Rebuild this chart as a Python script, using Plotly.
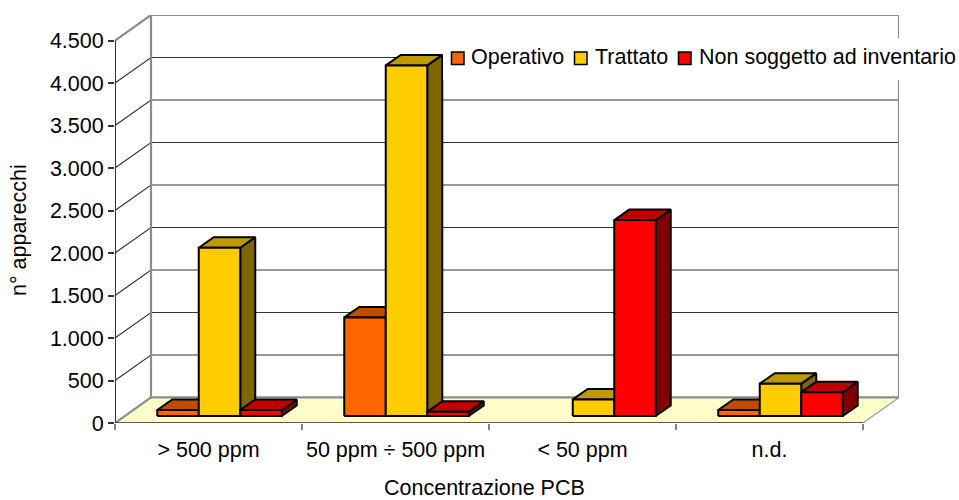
import plotly.graph_objects as go

categories = ["> 500 ppm", "50 ppm ÷ 500 ppm", "< 50 ppm", "n.d."]
operativo = [70, 1160, 0, 70]
trattato = [1980, 4125, 195, 380]
non_soggetto = [70, 50, 2305, 280]
series_names = ["Operativo", "Trattato", "Non soggetto ad inventario"]
y_ticks = [0, 500, 1000, 1500, 2000, 2500, 3000, 3500, 4000, 4500]
y_labels = ["0", "500", "1.000", "1.500", "2.000", "2.500", "3.000", "3.500", "4.000", "4.500"]
x_title = "Concentrazione PCB"
y_title = "n° apparecchi"

W, H = 959, 500
L, R, T, B = 115, 899, 15, 423
PX_X = 187.0
PX_Y = 382 / 4500
FONT = "Liberation Sans, Arial, sans-serif"
FS = 21.5

colors = [("#FF6600", "#BF4D00", "#803300"),
          ("#FFCC00", "#BF9900", "#806600"),
          ("#FF0000", "#BF0000", "#800000")]
values = [operativo, trattato, non_soggetto]

dxw, dyw = 36 / PX_X, 25.5 / PX_Y      # wall depth
dxb, dyb = 15 / PX_X, 10.5 / PX_Y      # bar depth
x0b, y0b = 11 / PX_X, 7 / PX_Y         # bar base inset
bw = 41.5 / PX_X
n_cat = len(categories)
xmax = n_cat + dxw
ymax = (B - T) / PX_Y

fig = go.Figure()


def poly(xs, ys, fill=None, color="black", width=2.0):
    fig.add_trace(go.Scatter(
        x=xs, y=ys, mode="lines",
        fill="toself" if fill else "none", fillcolor=fill,
        line=dict(color=color, width=width),
        showlegend=False, hoverinfo="skip", cliponaxis=False))


# floor
poly([0, n_cat, xmax, dxw, 0], [0, 0, dyw, dyw, 0], fill="#FFFFCC", color="#FFFFCC", width=0.5)

# gridlines
gx, gy = [], []
for v in y_ticks[1:-1]:
    gx += [0, dxw, xmax, None]
    gy += [v, v + dyw, v + dyw, None]
poly(gx, gy, color="#333333", width=1.1)

# wall outlines
top = y_ticks[-1]
poly([0, dxw, xmax, xmax], [top, top + dyw, top + dyw, dyw], color="#8C8C8C", width=2.2)
poly([0, dxw, dxw], [0, dyw, top + dyw], color="#8C8C8C", width=2.2)
poly([dxw, xmax], [dyw, dyw], color="#8C8C8C", width=2.2)
poly([xmax, n_cat], [dyw, 0], color="#999999", width=1.2)
poly([0, n_cat], [0, 0], color="#222222", width=1.6)

# bars
for c in range(n_cat):
    left = c + 0.5 + x0b - 1.5 * bw
    for s, vals in enumerate(values):
        v = vals[c]
        if not v:
            continue
        front, topc, side = colors[s]
        a = left + s * bw
        b = a + bw
        y0 = y0b
        y1 = y0b + v
        poly([b, b + dxb, b + dxb, b, b], [y0, y0 + dyb, y1 + dyb, y1, y0], fill=side)
        poly([a, a + dxb, b + dxb, b, a], [y1, y1 + dyb, y1 + dyb, y1, y1], fill=topc)
        poly([a, b, b, a, a], [y0, y0, y1, y1, y0], fill=front)

shapes = []
annotations = []


def px(x):
    return (x - L) / (R - L)


def py(y):
    return (B - y) / (B - T)


# legend
shapes.append(dict(type="rect", xref="paper", yref="paper", layer="above",
                   x0=px(443), x1=px(959), y0=py(80), y1=py(38),
                   fillcolor="white", line=dict(width=0)))
swatch_x = [451.5, 574.5, 678.5]
text_x = [469, 593, 697]
for name, sx, tx, col in zip(series_names, swatch_x, text_x, colors):
    shapes.append(dict(type="rect", xref="paper", yref="paper", layer="above",
                       x0=px(sx), x1=px(sx + 12.5), y0=py(64.5), y1=py(52),
                       fillcolor=col[0], line=dict(color="black", width=1.5)))
    annotations.append(dict(text=name, xref="paper", yref="paper", x=px(tx), y=py(57.5),
                            xanchor="left", yanchor="middle", showarrow=False,
                            font=dict(family=FONT, size=FS, color="black")))

annotations.append(dict(text=x_title, xref="paper", yref="paper", x=px(484), y=py(488),
                        xanchor="center", yanchor="middle", showarrow=False,
                        font=dict(family=FONT, size=FS, color="black")))
annotations.append(dict(text=y_title, xref="paper", yref="paper", x=px(19), y=py(230),
                        xanchor="center", yanchor="middle", showarrow=False, textangle=-90,
                        font=dict(family=FONT, size=FS, color="black")))

fig.update_layout(
    width=W, height=H, autosize=False,
    margin=dict(l=L, r=W - R, t=T, b=H - B, pad=0),
    paper_bgcolor="white", plot_bgcolor="white",
    showlegend=False, shapes=shapes, annotations=annotations,
    font=dict(family=FONT, size=FS, color="black"),
    xaxis=dict(range=[0, xmax], showgrid=False, zeroline=False, showline=False,
               tickmode="array", tickvals=[i + 0.5 for i in range(n_cat)], ticktext=categories,
               ticks="", ticklabelstandoff=11,
               minor=dict(tickmode="array", tickvals=list(range(n_cat + 1)), ticks="outside",
                          ticklen=6, tickwidth=1.5, tickcolor="#808080", showgrid=False)),
    yaxis=dict(range=[0, y_ticks[-1] + dyw], showgrid=False, zeroline=False, showline=False,
               tickmode="array", tickvals=y_ticks, ticktext=y_labels,
               ticks="outside", ticklen=6, tickwidth=1.5, tickcolor="#333333"),
)
# y axis line only up to the top tick
poly([0, 0], [0, y_ticks[-1]], color="#333333", width=2)

fig.write_html("out.html", config={"displayModeBar": False},
               post_script="document.body.style.margin='0';")
